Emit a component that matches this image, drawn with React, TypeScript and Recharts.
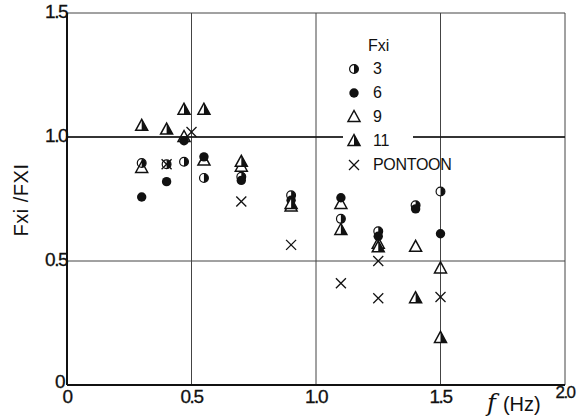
import React from "react";
import {
  ScatterChart,
  Scatter,
  XAxis,
  YAxis,
  CartesianGrid,
  ReferenceLine,
  Legend,
} from "recharts";

// frequency (Hz) and Fxi/FXI for each Fxi value
const f3 = [0.3, 0.4, 0.47, 0.55, 0.7, 0.9, 1.1, 1.25, 1.4, 1.5];
const r3 = [0.895, 0.89, 0.9, 0.835, 0.84, 0.765, 0.67, 0.62, 0.725, 0.78];

const f6 = [0.3, 0.4, 0.47, 0.55, 0.7, 0.9, 1.1, 1.25, 1.4, 1.5];
const r6 = [0.758, 0.82, 0.985, 0.92, 0.825, 0.745, 0.755, 0.6, 0.71, 0.61];

const f9 = [0.3, 0.47, 0.55, 0.7, 0.9, 1.1, 1.25, 1.4, 1.5];
const r9 = [0.875, 1.0, 0.905, 0.88, 0.72, 0.73, 0.57, 0.557, 0.47];

const f11 = [0.3, 0.4, 0.47, 0.55, 0.7, 0.9, 1.1, 1.25, 1.4, 1.5];
const r11 = [1.045, 1.03, 1.11, 1.11, 0.9, 0.73, 0.625, 0.555, 0.35, 0.19];

const fPontoon = [0.4, 0.5, 0.7, 0.9, 1.1, 1.25, 1.25, 1.5];
const rPontoon = [0.89, 1.02, 0.74, 0.565, 0.41, 0.5, 0.35, 0.355];

const xTicks = [0, 0.5, 1, 1.5, 2];
const yTicks = [0, 0.5, 1, 1.5];

const toPoints = (f: number[], r: number[]) => f.map((x, i) => ({ x, y: r[i] }));

const FONT = "'Liberation Sans', Arial, sans-serif";

// ---- markers ----
const HalfCircle = ({ cx, cy }: any) => (
  <g>
    <circle cx={cx} cy={cy} r={4.4} fill="#fff" stroke="#111" strokeWidth={1.2} />
    <path d={`M${cx},${cy - 4.4} A4.4,4.4 0 0 1 ${cx},${cy + 4.4} Z`} fill="#111" />
  </g>
);

const Dot = ({ cx, cy }: any) => <circle cx={cx} cy={cy} r={4.7} fill="#111" />;

const OpenTri = ({ cx, cy }: any) => (
  <polygon
    points={`${cx},${cy - 6.5} ${cx - 6},${cy + 4.5} ${cx + 6},${cy + 4.5}`}
    fill="none"
    stroke="#111"
    strokeWidth={1.5}
  />
);

const HalfTri = ({ cx, cy }: any) => (
  <g>
    <polygon
      points={`${cx},${cy - 6.5} ${cx - 6},${cy + 4.5} ${cx + 6},${cy + 4.5}`}
      fill="#fff"
      stroke="#111"
      strokeWidth={1.5}
    />
    <polygon points={`${cx},${cy - 6.5} ${cx + 6},${cy + 4.5} ${cx},${cy + 4.5}`} fill="#111" />
  </g>
);

const Cross = ({ cx, cy }: any) => (
  <g stroke="#111" strokeWidth={1.3}>
    <line x1={cx - 5} y1={cy - 5} x2={cx + 5} y2={cy + 5} />
    <line x1={cx - 5} y1={cy + 5} x2={cx + 5} y2={cy - 5} />
  </g>
);

const legendItems = [
  { label: "3", Mark: HalfCircle },
  { label: "6", Mark: Dot },
  { label: "9", Mark: OpenTri },
  { label: "11", Mark: HalfTri },
  { label: "PONTOON", Mark: Cross },
];

const FxiLegend = () => (
  <div style={{ fontFamily: FONT, fontSize: 16, color: "#111", background: "#fff", width: 70, height: 142 }}>
    <div style={{ height: 22, lineHeight: "22px", paddingLeft: 25 }}>Fxi</div>
    {legendItems.map(({ label, Mark }) => (
      <div key={label} style={{ height: 24, display: "flex", alignItems: "center", whiteSpace: "nowrap" }}>
        <svg width={14} height={14} style={{ marginLeft: 4, overflow: "visible" }}>
          <Mark cx={7} cy={7} />
        </svg>
        <span style={{ marginLeft: 12, letterSpacing: -0.3 }}>{label}</span>
      </div>
    ))}
  </div>
);

const fmt = (v: number) => (v === 0 ? "0" : v.toFixed(1));

const XTick = ({ x, y, payload }: any) => (
  <text
    x={x}
    y={payload.value === 2 ? y + 1 : y + 5}
    textAnchor="middle"
    dominantBaseline="middle"
    fontFamily={FONT}
    fontSize={payload.value === 2 ? 17 : 19}
    letterSpacing={-1.5}
    stroke="#111"
    strokeWidth={0.3}
    fill="#111"
  >
    {fmt(payload.value)}
  </text>
);

const YTick = ({ x, y, payload }: any) => (
  <text
    x={payload.value === 0 ? x + 5 : x + 8}
    y={payload.value === 0 ? y - 2 : y}
    textAnchor="end"
    dominantBaseline="middle"
    fontFamily={FONT}
    fontSize={19}
    letterSpacing={-1.5}
    stroke="#111"
    strokeWidth={0.3}
    fill="#111"
  >
    {fmt(payload.value)}
  </text>
);

export default function App() {
  return (
    <div style={{ position: "absolute", left: 0, top: 0, background: "#fff" }}>
      <ScatterChart width={586} height={418} margin={{ top: 13, right: 21, bottom: 0, left: 17 }}>
        <CartesianGrid stroke="#444" strokeWidth={1} />
        <ReferenceLine y={1} stroke="#111" strokeWidth={1.6} />
        <XAxis
          type="number"
          dataKey="x"
          domain={[0, 2]}
          ticks={xTicks}
          height={33}
          tickLine={false}
          axisLine={{ stroke: "#111", strokeWidth: 2 }}
          tick={<XTick />}
          interval={0}
          label={(props: any) => {
            const vb = props.viewBox;
            return (
              <text x={vb.x + vb.width - 78} y={vb.y + 26} fontFamily={FONT} fontSize={20} fill="#111">
                <tspan fontFamily="'DejaVu Serif', serif" fontStyle="italic" fontSize={24}>f</tspan>
                <tspan dx={7}>(Hz)</tspan>
              </text>
            );
          }}
        />
        <YAxis
          type="number"
          dataKey="y"
          domain={[0, 1.5]}
          ticks={yTicks}
          width={50}
          tickLine={false}
          axisLine={{ stroke: "#111", strokeWidth: 2 }}
          tick={<YTick />}
          interval={0}
          label={() => (
            <text
              x={23}
              y={200}
              transform="rotate(-90 23 200)"
              textAnchor="middle"
              dominantBaseline="middle"
              fontFamily={FONT}
              fontSize={20}
              letterSpacing={0.5}
              fill="#111"
            >
              Fxi /FXI
            </text>
          )}
        />
        <Legend
          layout="vertical"
          align="center"
          verticalAlign="middle"
          content={<FxiLegend />}
          wrapperStyle={{ left: 343, top: 35, width: 70, height: 142 }}
        />
        <Scatter name="3" data={toPoints(f3, r3)} shape={HalfCircle} isAnimationActive={false} />
        <Scatter name="6" data={toPoints(f6, r6)} shape={Dot} isAnimationActive={false} />
        <Scatter name="9" data={toPoints(f9, r9)} shape={OpenTri} isAnimationActive={false} />
        <Scatter name="11" data={toPoints(f11, r11)} shape={HalfTri} isAnimationActive={false} />
        <Scatter name="PONTOON" data={toPoints(fPontoon, rPontoon)} shape={Cross} isAnimationActive={false} />
      </ScatterChart>
    </div>
  );
}
